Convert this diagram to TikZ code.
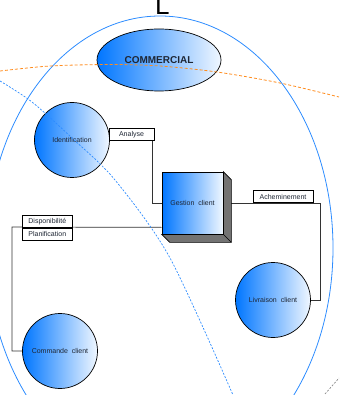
\documentclass[tikz,border=0pt]{standalone}
\usepackage{fontspec}
\setmainfont{Liberation Sans}
\usepackage{xcolor}
\usepackage{tikz}
\usetikzlibrary{backgrounds}
\usetikzlibrary{shapes.geometric}
\usetikzlibrary{calc}
\usetikzlibrary{positioning}

\definecolor{vif}{RGB}{0,118,255}
\definecolor{pale}{RGB}{240,247,255}
\definecolor{trait}{RGB}{45,140,255}
\definecolor{orangetrait}{RGB}{255,140,30}
\definecolor{encre}{RGB}{30,38,52}

\tikzset{
  bulle/.style={circle, draw=black, line width=0.7pt, left color=vif, right color=pale,
    minimum size=75pt, inner sep=0pt, text=encre, font=\fontsize{7}{8}\selectfont},
  etiquette/.style={rectangle, draw=black, fill=white, line width=0.6pt, inner sep=0pt,
    minimum height=12pt, text=encre, font=\fontsize{7}{8}\selectfont},
  lien/.style={draw=black!80, line width=0.7pt},
}

\begin{document}
\begin{tikzpicture}[x=1pt, y=-1pt]

      \useasboundingbox (0,0) rectangle (339,395);
      \clip (0,0) rectangle (339,395);

      \node[anchor=base west, inner sep=0pt, font=\fontsize{26}{26}\selectfont] (lettre) at (155,15) {L};

      \draw[trait, line width=0.8pt] (160,248) ellipse [x radius=173pt, y radius=232pt];

      \node[ellipse, draw=black, line width=0.7pt, left color=vif, right color=pale,
        minimum width=124pt, minimum height=62pt, text=encre,
        font=\fontsize{10}{12}\selectfont\bfseries] (commercial) at (159,60) {COMMERCIAL};

      \foreach \nom/\pos/\texte in {ident/{72,140}/Identification,
                                    livraison/{273,300}/Livraison\ \ client,
                                    commande/{60,351}/Commande\ \ client}{
        \node[bulle] (\nom) at (\pos) {\texte};
      }

      \node[rectangle, draw=black, line width=0.7pt, left color=vif, right color=pale,
        minimum width=61pt, minimum height=62pt, inner sep=0pt, text=encre,
        font=\fontsize{7}{8}\selectfont] (gestion) at (192.5,203) {Gestion\ \ client};

      \coordinate (coudeA) at (152,140);
      \coordinate (coudeL) at (320,203);
      \coordinate (sortieC) at ($(gestion.south west)+(0,-7)$);
      \coordinate (coudeC) at (12,227);

      \begin{scope}[on background layer]
        \draw[lien] (ident.east) -- (coudeA) |- (gestion.west);
        \draw[lien] (gestion.east) -- (coudeL) |- (livraison.east);
        \draw[lien] (sortieC) -- (coudeC) |- (commande.west);
        \filldraw[fill=black!55, draw=black, line width=0.7pt]
          (gestion.north east) -- ++(8,8) -- ($(gestion.south east)+(8,8)$)
          -- ($(gestion.south west)+(8,8)$) -- (gestion.south west)
          -- (gestion.south east) -- cycle;
        \draw[black, line width=0.7pt] (gestion.south east) -- ++(8,8);
      \end{scope}

      \node[etiquette, minimum width=45pt] (analyse) at (131.5,134.5) {Analyse};
      \node[etiquette, minimum width=60pt, anchor=south] (achem) at (283,203) {Acheminement};
      \node[etiquette, minimum width=50pt, anchor=south west] (dispo) at (22,228) {Disponibilité};
      \node[etiquette, minimum width=50pt, anchor=north west] (planif) at (22,228) {Planification};

      \draw[orangetrait, line width=0.8pt, dash pattern=on 3pt off 2pt]
        plot[smooth] coordinates {(0,71) (50,66) (110,64.5) (160,66) (217,72) (280,83) (339,97)};
      \draw[trait, line width=0.7pt, dash pattern=on 2pt off 1.5pt]
        plot[smooth] coordinates {(0,81) (32,102) (72,138) (115,180) (170,258) (233,395)};
      \draw[black!45, line width=0.7pt, dash pattern=on 2pt off 1.5pt] (325,394) -- (339,378);

    \end{tikzpicture}
\end{document}
